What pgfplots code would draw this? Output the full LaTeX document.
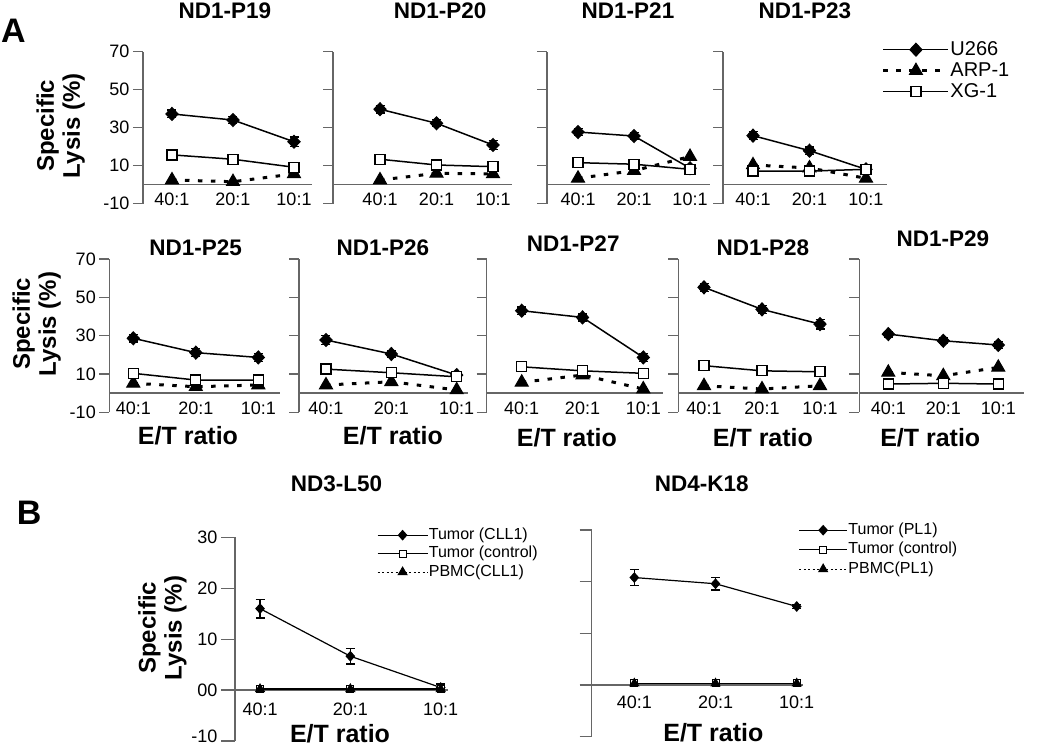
\documentclass[border=0pt]{standalone}
\usepackage{fontspec}
\setmainfont{Liberation Sans}
\usepackage{pgfplots}
\pgfplotsset{compat=1.18}
\definecolor{axgray}{gray}{0.4}

\pgfplotsset{
  panel/.style={
    scale only axis, clip=false,
    axis y line*=left, axis x line*=middle,
    axis line style={draw=axgray, line width=1.2pt},
    tick align=outside,
    xtick={0,1,2}, xticklabels={40:1,20:1,10:1},
    x tick style={draw=none},
    y tick style={draw=axgray, line width=1.2pt},
    ticklabel style={font=\fontsize{18}{21}\selectfont},
    xticklabel style={yshift=5pt},
    title style={font=\bfseries\fontsize{22.5}{24}\selectfont, anchor=center},
    xlabel style={font=\bfseries\fontsize{25}{26}\selectfont, anchor=center},
    ylabel style={font=\bfseries\fontsize{24}{26}\selectfont, anchor=center, align=center},
  },
  rowA/.style={panel, ymin=-10, ymax=70, ytick={-10,10,30,50,70},
    yticklabels={}, major tick length=10pt},
  rowB/.style={panel, ymin=-10, ymax=30, ytick={-10,0,10,20,30},
    yticklabels={}},
  tpos/.style 2 args={title style={at={(axis description cs:#1,#2)}}},
  xlpos/.style 2 args={xlabel style={at={(axis description cs:#1,#2)}}},
  ylpos/.style 2 args={ylabel style={at={(axis description cs:#1,#2)}}},
  % series, panel A
  u266/.style={black, line width=1.5pt, mark=diamond*, mark size=6.5pt,
    mark options={solid, fill=black, line width=1pt, xscale=1.25}},
  arp/.style={black, line width=3pt, dash pattern=on 4.5pt off 8.5pt,
    mark=triangle*, mark size=7.5pt, mark options={solid, fill=black, line width=1pt}},
  xg/.style={black, line width=1.5pt, mark=square*, mark size=5pt,
    mark options={solid, fill=white, line width=1.3pt}},
  % series, panel B
  tum/.style={black, line width=1.2pt, mark=diamond*, mark size=4.5pt,
    mark options={solid, fill=black, xscale=1.2}},
  ctl/.style={black, line width=1.5pt, mark=square*, mark size=3.5pt,
    mark options={solid, fill=white, line width=1pt}},
  pbmc/.style={black, line width=1pt, dash pattern=on 2pt off 2.5pt,
    mark=triangle*, mark size=5pt, mark options={solid, fill=black}},
  ebar/.style={error bars/.cd, y dir=both, y explicit,
    error bar style={line width=1.3pt, solid},
    error mark options={rotate=90, line width=1.3pt, mark size=4.5pt, solid}},
}

\begin{document}
\begin{tikzpicture}
\path[use as bounding box] (0pt,0pt) rectangle (1050pt,-746pt);

\node[font=\bfseries\fontsize{34}{36}\selectfont] at (13.5pt,-30.7pt) {A};
\node[font=\bfseries\fontsize{34}{36}\selectfont] at (29.2pt,-513.3pt) {B};

%% ---------- row 1 ----------
\begin{axis}[rowA, at={(143pt,-203.8pt)}, anchor=south west,
  width=169pt, height=152.3pt, xmin=-0.475, xmax=2.295,
  yticklabels={-10,10,30,50,70},
  title={ND1-P19}, tpos={0.485}{1.2265},
  ylabel={Specific\\Lysis (\%)}, ylpos={-0.487}{0.512}]
\addplot[u266, ebar] coordinates {(0,37.2) +- (0,2) (1,34.0) +- (0,2) (2,22.6) +- (0,2.5)};
\addplot[arp] coordinates {(0,2.5) (1,1.6) (2,5.7)};
\addplot[xg] coordinates {(0,15.7) (1,13.4) (2,9.2)};
\end{axis}

\begin{axis}[rowA, at={(333pt,-203.8pt)}, anchor=south west,
  width=179pt, height=152.3pt, xmin=-0.832, xmax=2.336,
  title={ND1-P20}, tpos={0.598}{1.2265}]
\addplot[u266, ebar] coordinates {(0,39.7) +- (0,2) (1,32.3) +- (0,1.8) (2,20.9) +- (0,2.2)};
\addplot[arp] coordinates {(0,2.5) (1,6.0) (2,5.7)};
\addplot[xg] coordinates {(0,13.4) (1,10.4) (2,9.5)};
\end{axis}

\begin{axis}[rowA, at={(547pt,-203.8pt)}, anchor=south west,
  width=163pt, height=152.3pt, xmin=-0.554, xmax=2.357,
  title={ND1-P21}, tpos={0.497}{1.2265}]
\addplot[u266, ebar] coordinates {(0,27.7) +- (0,2) (1,25.6) +- (0,2) (2,8.7) +- (0,1)};
\addplot[arp] coordinates {(0,3.4) (1,7.4) (2,14.8)};
\addplot[xg] coordinates {(0,11.6) (1,10.8) (2,8.1)};
\end{axis}

\begin{axis}[rowA, at={(723pt,-203.8pt)}, anchor=south west,
  width=164pt, height=152.3pt, xmin=-0.531, xmax=2.372,
  title={ND1-P23}, tpos={0.5}{1.2265},
  legend cell align=left,
  legend style={at={(axis description cs:0.968,1.0755)}, anchor=north west,
    draw=none, fill=none, inner sep=0pt, row sep=2pt,
    nodes={inner sep=0.5pt, text height=14.5pt, text depth=3.5pt},
    font=\fontsize{20}{22}\selectfont},
  legend image code/.code={\draw[mark repeat=2,mark phase=2,#1]
    plot coordinates {(0pt,0pt) (32.5pt,0pt) (65pt,0pt)};}]
\addplot[u266, ebar] coordinates {(0,25.8) +- (0,2) (1,17.9) +- (0,2) (2,8.1) +- (0,1)};
\addplot[arp] coordinates {(0,10.4) (1,8.8) (2,3.4)};
\addplot[xg] coordinates {(0,7.2) (1,7.2) (2,8.1)};
\legend{U266,ARP-1,XG-1}
\end{axis}

%% ---------- row 2 ----------
\begin{axis}[rowA, at={(109.3pt,-412.2pt)}, anchor=south west,
  width=170.7pt, height=153.2pt, xmin=-0.384, xmax=2.347,
  yticklabels={-10,10,30,50,70},
  title={ND1-P25}, tpos={0.506}{1.037},
  xlabel={E/T ratio}, xlpos={0.461}{-0.155},
  ylabel={Specific\\Lysis (\%)}, ylpos={-0.426}{0.576}]
\addplot[u266, ebar] coordinates {(0,28.6) +- (0,2) (1,21.1) +- (0,2) (2,18.6) +- (0,2)};
\addplot[arp] coordinates {(0,5.1) (1,3.3) (2,4.2)};
\addplot[xg] coordinates {(0,10.3) (1,6.8) (2,6.8)};
\end{axis}

\begin{axis}[rowA, at={(299pt,-412.2pt)}, anchor=south west,
  width=169pt, height=153.2pt, xmin=-0.413, xmax=2.173,
  title={ND1-P26}, tpos={0.497}{1.037},
  xlabel={E/T ratio}, xlpos={0.556}{-0.155}]
\addplot[u266, ebar] coordinates {(0,27.7) +- (0,2.2) (1,20.4) +- (0,2) (2,9.4) +- (0,1.5)};
\addplot[arp] coordinates {(0,4.2) (1,5.9) (2,1.6)};
\addplot[xg] coordinates {(0,12.5) (1,10.6) (2,8.5)};
\end{axis}

\begin{axis}[rowA, at={(486.7pt,-412.2pt)}, anchor=south west,
  width=176.3pt, height=153.2pt, xmin=-0.576, xmax=2.324,
  title={ND1-P27}, tpos={0.491}{1.059},
  xlabel={E/T ratio}, xlpos={0.455}{-0.165}]
\addplot[u266, ebar] coordinates {(0,43.0) +- (0,2) (1,39.5) +- (0,1.8) (2,18.6) +- (0,2)};
\addplot[arp] coordinates {(0,5.6) (1,9.4) (2,2.1)};
\addplot[xg] coordinates {(0,13.7) (1,11.6) (2,10.3)};
\end{axis}

\begin{axis}[rowA, at={(678.3pt,-412.2pt)}, anchor=south west,
  width=179.7pt, height=153.2pt, xmin=-0.443, xmax=2.655,
  title={ND1-P28}, tpos={0.471}{1.037},
  xlabel={E/T ratio}, xlpos={0.471}{-0.165}]
\addplot[u266, ebar] coordinates {(0,55.2) +- (0,2) (1,43.7) +- (0,2) (2,36.0) +- (0,2.5)};
\addplot[arp] coordinates {(0,3.8) (1,2.1) (2,3.8)};
\addplot[xg] coordinates {(0,14.3) (1,11.6) (2,11.1)};
\end{axis}

\begin{axis}[rowA, at={(859.3pt,-412.2pt)}, anchor=south west,
  width=165pt, height=153.2pt, xmin=-0.527, xmax=2.473,
  title={ND1-P29}, tpos={0.507}{1.091},
  xlabel={E/T ratio}, xlpos={0.43}{-0.165}]
\addplot[u266, ebar] coordinates {(0,30.8) +- (0,1.5) (1,27.3) +- (0,1.5) (2,25.1) +- (0,1.8)};
\addplot[arp] coordinates {(0,10.8) (1,9.0) (2,13.4)};
\addplot[xg] coordinates {(0,4.7) (1,5.1) (2,4.7)};
\end{axis}

%% ---------- panel B ----------
\begin{axis}[rowB, at={(235pt,-741pt)}, anchor=south west,
  width=213pt, height=203.7pt, xmin=-0.277, xmax=2.081, major tick length=14pt,
  yticklabels={\raisebox{9pt}{-10},00,10,20,30},
  title={ND3-L50}, tpos={0.477}{1.232},
  xlabel={E/T ratio}, xlpos={0.493}{0.034},
  ylabel={Specific\\Lysis (\%)}, ylpos={-0.341}{0.555},
  legend cell align=left,
  legend style={at={(axis description cs:0.665,1.052)}, anchor=north west,
    draw=none, fill=none, inner sep=0pt, row sep=2pt,
    nodes={inner sep=0.5pt, text height=12pt, text depth=3.5pt},
    font=\fontsize{16}{19}\selectfont},
  legend image code/.code={\draw[mark repeat=2,mark phase=2,#1]
    plot coordinates {(0pt,0pt) (25pt,0pt) (50pt,0pt)};}]
\addplot[tum, ebar] coordinates {(0,16.0) +- (0,1.85) (1,6.65) +- (0,1.5) (2,0.5) +- (0,0.7)};
\addplot[ctl] coordinates {(0,0.2) (1,0.2) (2,0.2)};
\addplot[pbmc] coordinates {(0,0.2) (1,0.2) (2,0.2)};
\legend{Tumor (CLL1),Tumor (control),PBMC(CLL1)}
\end{axis}

\begin{axis}[rowB, at={(591.7pt,-736.7pt)}, anchor=south west,
  width=211.6pt, height=206.7pt, xmin=-0.525, xmax=2.081, major tick length=12pt,
  title={ND4-K18}, tpos={0.52}{1.194},
  xlabel={E/T ratio}, xlpos={0.575}{0.018},
  legend cell align=left,
  legend style={at={(axis description cs:0.976,1.04)}, anchor=north west,
    draw=none, fill=none, inner sep=0pt, row sep=3pt,
    nodes={inner sep=0.5pt, text height=12pt, text depth=3.5pt},
    font=\fontsize{16}{19}\selectfont},
  legend image code/.code={\draw[mark repeat=2,mark phase=2,#1]
    plot coordinates {(0pt,0pt) (24pt,0pt) (48pt,0pt)};}]
\addplot[tum, ebar] coordinates {(0,20.8) +- (0,1.6) (1,19.6) +- (0,1.2) (2,15.2) +- (0,0.4)};
\addplot[ctl] coordinates {(0,0.3) (1,0.3) (2,0.3)};
\addplot[pbmc] coordinates {(0,0.3) (1,0.3) (2,0.3)};
\legend{Tumor (PL1),Tumor (control),PBMC(PL1)}
\end{axis}

\end{tikzpicture}
\end{document}
